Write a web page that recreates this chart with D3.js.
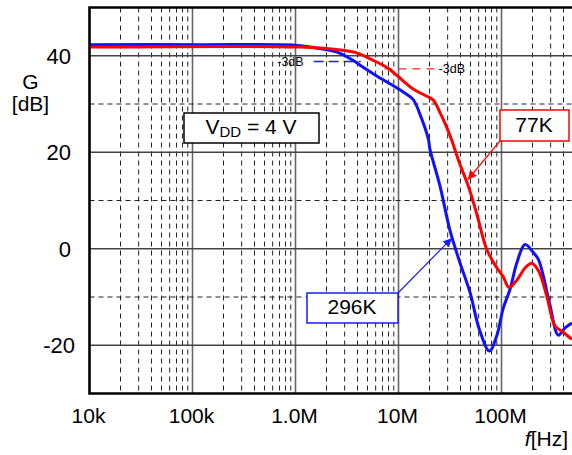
<!DOCTYPE html>
<html><head><meta charset="utf-8">
<script src="https://cdn.jsdelivr.net/npm/d3@7"></script>
<style>body{margin:0;background:#fff}svg{display:block}text{font-family:"Liberation Sans",Arial,sans-serif}</style>
</head><body>
<svg id="c" width="572" height="455"></svg>
<script>
const yTicks = [40, 20, 0, -20];
const yTickLabels = ["40", "20", "0", "-20"];
const xTicks = [1e4, 1e5, 1e6, 1e7, 1e8];
const xTickLabels = ["10k", "100k", "1.0M", "10M", "100M"];

const blueFreq = [1e4, 1.18e5, 9.9e5, 1.38e6, 2.5e6, 3.64e6, 4.55e6, 6.14e6, 8.9e6, 1.11e7, 1.39e7, 1.62e7, 1.95e7, 2.02e7, 2.53e7, 3.16e7, 3.95e7, 4.94e7, 6.11e7, 7.63e7, 8.98e7, 1.04e8, 1.21e8, 1.41e8, 1.69e8, 2.04e8, 2.28e8, 2.55e8, 2.96e8, 3.56e8, 4.14e8, 4.83e8];
const blueGain = [42.3, 42.3, 42.2, 41.8, 40.8, 39.0, 37.6, 35.8, 33.8, 32.5, 30.9, 27.8, 22.7, 20.6, 13.0, 3.8, -2.9, -9.0, -16.8, -21.2, -18.1, -12.3, -8.4, -2.9, 0.9, -0.8, -2.2, -5.7, -11.8, -17.9, -16.4, -15.4];
const redFreq = [1e4, 1.11e6, 2.5e6, 3.93e6, 5.5e6, 7.8e6, 9.8e6, 1.39e7, 1.88e7, 2.18e7, 2.53e7, 2.72e7, 3.16e7, 3.95e7, 4.76e7, 5.74e7, 7.18e7, 8.98e7, 1.04e8, 1.18e8, 1.41e8, 1.69e8, 1.96e8, 2.28e8, 2.75e8, 3.31e8, 3.98e8, 4.83e8];
const redGain = [41.8, 41.8, 41.3, 40.6, 39.2, 37.5, 35.8, 33.1, 31.6, 30.8, 28.2, 26.8, 23.5, 17.5, 13.0, 7.3, -0.1, -3.9, -5.8, -8.0, -6.5, -4.0, -3.0, -4.5, -9.8, -16.0, -17.3, -18.8];

const svg = d3.select("#c");
const L = 89.5, T = 7.5, B = 393.5;
const x = d3.scaleLog().domain([1e4, 5e8]).range([L, L + 103 * Math.log10(5e4)]);
const y = d3.scaleLinear().domain([-30, 50]).range([B, T]);
const R = x.range()[1];

svg.append("defs").append("clipPath").attr("id", "clip")
  .append("rect").attr("x", L).attr("y", T).attr("width", R - L).attr("height", B - T);

// grid
const g = svg.append("g").attr("clip-path", "url(#clip)");
const vlines = [];
for (let n = 4; n <= 8; n++) for (let k = 1; k <= 9; k++) {
  const f = k * Math.pow(10, n);
  if (f > 1e4 && f < 5e8) vlines.push({f, major: k === 1});
}
g.selectAll("line.v").data(vlines).join("line")
  .attr("x1", d => x(d.f)).attr("x2", d => x(d.f)).attr("y1", T).attr("y2", B)
  .attr("stroke", d => d.major ? "#666" : "#222")
  .attr("stroke-width", d => d.major ? 1.6 : 1)
  .attr("stroke-dasharray", d => d.major ? null : "5,4");
const hlines = d3.range(-20, 50, 10);
g.selectAll("line.h").data(hlines).join("line")
  .attr("x1", L).attr("x2", R).attr("y1", d => y(d)).attr("y2", d => y(d))
  .attr("stroke", d => d % 20 === 0 ? "#444" : "#222")
  .attr("stroke-width", d => d % 20 === 0 ? 1.4 : 1)
  .attr("stroke-dasharray", d => d % 20 === 0 ? null : "5,4");

// -3dB markers
g.append("line").attr("x1", x(1.5e6)).attr("x2", x(4.3e6)).attr("y1", y(38.8)).attr("y2", y(38.8))
  .attr("stroke", "#1a1aff").attr("stroke-width", 1.6).attr("stroke-dasharray", "10,5");
g.append("line").attr("x1", x(7.3e6)).attr("x2", x(2.3e7)).attr("y1", y(37.3)).attr("y2", y(37.3))
  .attr("stroke", "#ff2020").attr("stroke-width", 1.2).attr("stroke-dasharray", "8,6");
svg.append("text").attr("x", x(1.2e6)).attr("y", y(38.8) + 4.5).attr("text-anchor", "end")
  .attr("font-size", 12.5).text("-3dB");
svg.append("text").attr("x", x(2.45e7)).attr("y", y(37.3) + 4.5)
  .attr("font-size", 12.5).text("-3dB");

// curves
const line = d3.line().x(d => x(d[0])).y(d => y(d[1])).curve(d3.curveCatmullRom.alpha(0.5));
g.append("path").datum(blueFreq.map((f, i) => [f, blueGain[i]]))
  .attr("d", line).attr("fill", "none").attr("stroke", "#1010ff").attr("stroke-width", 3);
g.append("path").datum(redFreq.map((f, i) => [f, redGain[i]]))
  .attr("d", line).attr("fill", "none").attr("stroke", "#ff0000").attr("stroke-width", 3);

// frame
svg.append("path").attr("d", `M${R + 2},${T}H${L}V${B}H${R + 2}`)
  .attr("fill", "none").attr("stroke", "#000").attr("stroke-width", 2.6);

// tick labels
svg.selectAll("text.yt").data(yTicks).join("text")
  .attr("x", (d, i) => i === 3 ? 75 : 71).attr("y", d => y(d) + 8)
  .attr("text-anchor", "end").attr("font-size", 22).text((d, i) => yTickLabels[i]);
svg.selectAll("text.xt").data(xTicks).join("text")
  .attr("x", d => x(d) - 1).attr("y", 423)
  .attr("text-anchor", "middle").attr("font-size", 21).text((d, i) => xTickLabels[i]);

// axis titles
svg.append("text").attr("x", 30.5).attr("y", 89).attr("text-anchor", "middle").attr("font-size", 21).text("G");
svg.append("text").attr("x", 30.5).attr("y", 111).attr("text-anchor", "middle").attr("font-size", 21).text("[dB]");
const ft = svg.append("text").attr("x", 568).attr("y", 446).attr("text-anchor", "end").attr("font-size", 21);
ft.append("tspan").attr("font-style", "italic").text("f");
ft.append("tspan").text("[Hz]");

// VDD box
svg.append("rect").attr("x", 184).attr("y", 113).attr("width", 135).attr("height", 30)
  .attr("fill", "#fff").attr("stroke", "#000").attr("stroke-width", 1.5);
const vt = svg.append("text").attr("x", 251).attr("y", 134).attr("text-anchor", "middle").attr("font-size", 21);
vt.append("tspan").text("V");
vt.append("tspan").attr("font-size", 15).attr("dy", 3).text("DD");
vt.append("tspan").attr("dy", -3).text(" = 4 V");

// arrowheads
const defs = svg.select("defs");
[["ar", "#ff0000"], ["ab", "#1a1aff"]].forEach(([id, c]) => {
  defs.append("marker").attr("id", id).attr("viewBox", "0 0 10 10").attr("refX", 10).attr("refY", 5)
    .attr("markerWidth", 9).attr("markerHeight", 9).attr("markerUnits", "userSpaceOnUse").attr("orient", "auto")
    .append("path").attr("d", "M0,0L10,5L0,10z").attr("fill", c);
});
// 77K callout
svg.append("line").attr("x1", 500).attr("y1", 141).attr("x2", x(4.7e7)).attr("y2", y(14.3))
  .attr("stroke", "#ff0000").attr("stroke-width", 1.2).attr("marker-end", "url(#ar)");
svg.append("rect").attr("x", 500).attr("y", 110).attr("width", 69).attr("height", 31)
  .attr("fill", "#fff").attr("stroke", "#ff0000").attr("stroke-width", 1.5);
svg.append("text").attr("x", 534).attr("y", 132).attr("text-anchor", "middle").attr("font-size", 21).text("77K");
// 296K callout
svg.append("line").attr("x1", 398).attr("y1", 293).attr("x2", x(3.3e7)).attr("y2", y(2.2))
  .attr("stroke", "#1a1aff").attr("stroke-width", 1.2).attr("marker-end", "url(#ab)");
svg.append("rect").attr("x", 307).attr("y", 293).attr("width", 91).attr("height", 30)
  .attr("fill", "#fff").attr("stroke", "#1a1aff").attr("stroke-width", 1.5);
svg.append("text").attr("x", 352).attr("y", 314).attr("text-anchor", "middle").attr("font-size", 21).text("296K");
</script>
</body></html>
